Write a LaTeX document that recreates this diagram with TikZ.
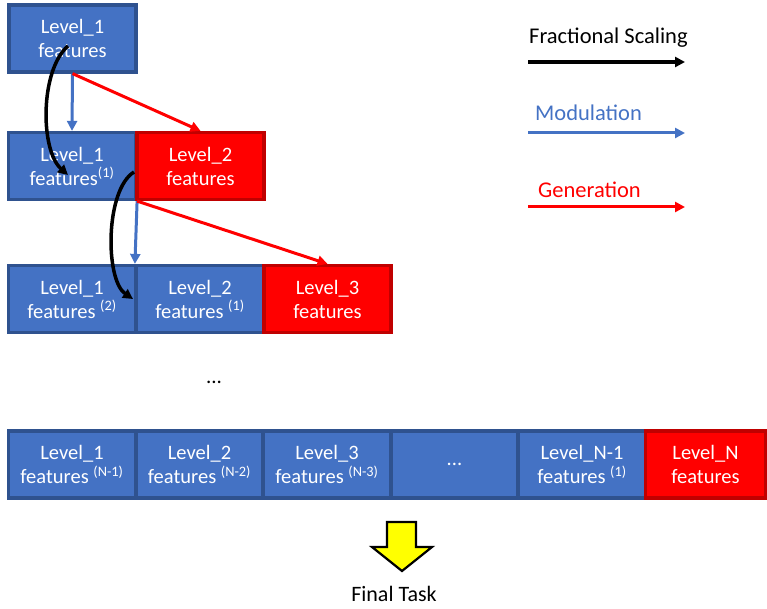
\documentclass[tikz,border=0pt]{standalone}
\usepackage{fontspec}
\setmainfont{Carlito}
\usetikzlibrary{arrows.meta}
\definecolor{boxblue}{HTML}{4472C4}
\definecolor{boxblueedge}{HTML}{2F528F}
\definecolor{boxred}{HTML}{FF0000}
\definecolor{boxrededge}{HTML}{C00000}
\definecolor{yel}{HTML}{FFFF00}
\begin{document}
\begin{tikzpicture}[x=1pt,y=-1pt,
  box/.style={minimum width=127pt,minimum height=67pt,inner sep=0pt,align=center,
    text=white,line width=3.2pt,font=\fontsize{20.5}{24}\selectfont},
  bluebox/.style={box,fill=boxblue,draw=boxblueedge},
  redbox/.style={box,fill=boxred,draw=boxrededge},
  scalearrow/.style={line width=3.5pt,black,-{Triangle[length=10pt,width=10pt]}},
  modarrow/.style={line width=3pt,boxblue,-{Triangle[length=10pt,width=10pt]}},
  genarrow/.style={line width=3pt,boxred,-{Triangle[length=10pt,width=10pt]}},
  legend/.style={anchor=west,inner sep=0pt,font=\fontsize{22.5}{26}\selectfont},
  plain/.style={inner sep=0pt,font=\fontsize{21}{24}\selectfont}
]
\useasboundingbox (0,0) rectangle (767,609);
% row 1
\node[bluebox] (a11) at (72.5,38.5) {Level\_1\\features};
% row 2
\node[bluebox] (b11) at (72,166) {Level\_1\\features\textsuperscript{(1)}};
\node[redbox] (b22) at (200.5,166) {Level\_2\\features};
% row 3
\node[bluebox] (c11) at (72,299) {Level\_1\\features \textsuperscript{(2)}};
\node[bluebox] (c22) at (200,299) {Level\_2\\features \textsuperscript{(1)}};
\node[redbox] (c33) at (327.5,299) {Level\_3\\features};
% dots
\node[plain] (dots) at (214,382) {...};
% row 4
\node[bluebox] (d1) at (72,464.5) {Level\_1\\features \textsuperscript{(N-1)}};
\node[bluebox] (d2) at (199.5,464.5) {Level\_2\\features \textsuperscript{(N-2)}};
\node[bluebox] (d3) at (327,464.5) {Level\_3\\features \textsuperscript{(N-3)}};
\node[bluebox] (d4) at (454.5,464.5) {...};
\node[bluebox] (d5) at (582,464.5) {Level\_N-1\\features \textsuperscript{(1)}};
\node[redbox,minimum width=120pt] (d6) at (705.5,464.5) {Level\_N\\features};
% connectors row1 -> row2
\draw[modarrow] (a11.south) -- (b11.north);
\draw[genarrow] (a11.south) -- (b22.north);
\coordinate (s1) at (68,46);
\coordinate (e1) at (68,175);
\draw[scalearrow] (s1) .. controls (40,70) and (40,150) .. (e1);
% row2 -> row3
\draw[modarrow] (b11.south east) -- (c22.north west);
\draw[genarrow] (b11.south east) -- (c33.north);
\coordinate (s2) at (134,172);
\coordinate (e2) at (133,299);
\draw[scalearrow] (s2) .. controls (105,190) and (105,280) .. (e2);
% legend
\node[legend] (lf) at (529,38) {Fractional Scaling};
\coordinate (lfa) at (528,62);
\coordinate (lfb) at (685,62);
\draw[scalearrow] (lfa) -- (lfb);
\node[legend,text=boxblue] (lm) at (535,113) {Modulation};
\coordinate (lma) at (528,133);
\coordinate (lmb) at (685,133);
\draw[modarrow] (lma) -- (lmb);
\node[legend,text=boxred] (lg) at (538,190) {Generation};
\coordinate (lga) at (528,207);
\coordinate (lgb) at (685,207);
\draw[genarrow] (lga) -- (lgb);
% final arrow
\draw[fill=yel,line width=2.2pt,line join=miter] (387,522)--(416,522)--(416,547)--(432,547)--(402,571)--(372,547)--(387,547)--cycle;
\node[plain,font=\fontsize{22}{24}\selectfont] (final) at (394,594) {Final Task};
\end{tikzpicture}
\end{document}
